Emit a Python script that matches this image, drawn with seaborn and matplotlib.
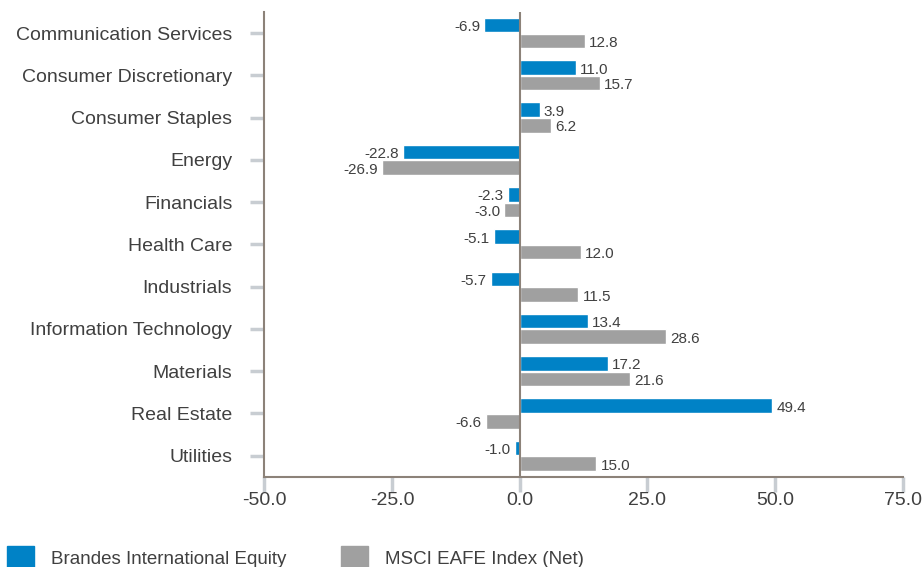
import numpy as np
import pandas as pd
import seaborn as sns
import matplotlib.pyplot as plt

sectors = ['Communication Services', 'Consumer Discretionary', 'Consumer Staples',
           'Energy', 'Financials', 'Health Care', 'Industrials',
           'Information Technology', 'Materials', 'Real Estate', 'Utilities']
brandes = [-6.9, 11.0, 3.9, -22.8, -2.3, -5.1, -5.7, 13.4, 17.2, 49.4, -1.0]
msci = [12.8, 15.7, 6.2, -26.9, -3.0, 12.0, 11.5, 28.6, 21.6, -6.6, 15.0]
series = ['Brandes International Equity', 'MSCI EAFE Index (Net)']
colors = ['#0082C6', '#A0A0A0']
xticks = [-50, -25, 0, 25, 50, 75]

df = pd.DataFrame({
    'sector': sectors * 2,
    'value': brandes + msci,
    'series': [series[0]] * len(sectors) + [series[1]] * len(sectors),
})

sns.set_style('white')
plt.rcParams['font.family'] = ['Liberation Sans', 'DejaVu Sans']

fig, ax = plt.subplots(figsize=(9.24, 5.67), dpi=100)
fig.subplots_adjust(left=0.286, right=0.977, top=0.979, bottom=0.159)

sns.barplot(data=df, y='sector', x='value', hue='series', order=sectors,
            hue_order=series, palette=colors, orient='h', width=0.74, gap=0.07,
            saturation=1, ax=ax, legend=False)

for cont in ax.containers:
    for rect, val in zip(cont, cont.datavalues):
        y = rect.get_y() + rect.get_height() / 2
        if val >= 0:
            ax.annotate(f'{val:.1f}', (val, y), xytext=(3, -1.5), textcoords='offset points',
                        ha='left', va='center', fontsize=11, color='#404040')
        else:
            ax.annotate(f'{val:.1f}', (val, y), xytext=(-3, -1.5), textcoords='offset points',
                        ha='right', va='center', fontsize=11, color='#404040')

ax.set_xlim(-50, 75)
ax.set_xticks(xticks)
ax.set_xticklabels([f'{t:.1f}' for t in xticks], fontsize=14, color='#404040')
ax.set_ylim(len(sectors) - 0.5, -0.5)
ax.set_ylabel('')
ax.set_xlabel('')
ax.tick_params(axis='y', labelsize=14, labelcolor='#404040', length=10, width=2.5,
               color='#C8CDD2', pad=13, left=True)
ax.tick_params(axis='x', length=11, width=2.5, color='#C8CDD2', pad=0, bottom=True)

ax.axvline(0, color='#8C8279', lw=1.5, zorder=3)
for side in ['top', 'right']:
    ax.spines[side].set_visible(False)
for side in ['left', 'bottom']:
    ax.spines[side].set_color('#8C8279')
    ax.spines[side].set_linewidth(1.5)

handles = [plt.Rectangle((0, 0), 1, 1, color=c) for c in colors]
fig.legend(handles, series, loc='lower left', bbox_to_anchor=(-0.011, -0.035), ncol=2,
           frameon=False, fontsize=13.5, handlelength=1.45,
           handleheight=1.6, columnspacing=2.9, handletextpad=0.9,
           labelcolor='#404040')

fig.savefig('out.png', dpi=100)
